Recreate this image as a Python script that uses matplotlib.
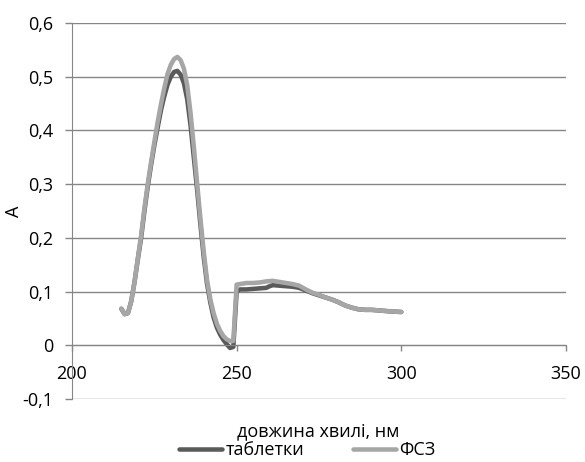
import matplotlib
matplotlib.use("Agg")
import matplotlib.pyplot as plt
from matplotlib.ticker import FuncFormatter

plt.rcParams['font.family'] = ['Open Sans', 'DejaVu Sans']

# wavelength, nm / absorbance
wl_tab = [215, 216, 217, 218, 219, 220, 221, 222, 223, 224, 225, 226, 227, 228, 229,
          230, 231, 232, 233, 234, 235, 236, 237, 238, 239, 240, 241, 242, 243, 244,
          245, 246, 247, 248, 249, 250, 251, 253, 255, 257, 259, 260, 261, 263, 265,
          267, 269, 271, 273, 275, 277, 279, 281, 283, 285, 287, 289, 291, 293, 295,
          297, 300]
a_tab = [0.068, 0.058, 0.060, 0.082, 0.118, 0.160, 0.200, 0.250, 0.295, 0.335, 0.372,
         0.405, 0.437, 0.463, 0.485, 0.500, 0.509, 0.511, 0.504, 0.488, 0.458, 0.410,
         0.350, 0.290, 0.225, 0.165, 0.115, 0.080, 0.052, 0.033, 0.020, 0.010, 0.002,
         -0.005, -0.003, 0.100, 0.104, 0.104, 0.105, 0.106, 0.107, 0.110, 0.112, 0.111,
         0.110, 0.109, 0.107, 0.102, 0.097, 0.093, 0.089, 0.085, 0.080, 0.074, 0.070,
         0.067, 0.066, 0.066, 0.065, 0.064, 0.063, 0.062]

wl_fsz = [215, 216, 217, 218, 219, 220, 221, 222, 223, 224, 225, 226, 227, 228, 229,
          230, 231, 232, 233, 234, 235, 236, 237, 238, 239, 240, 241, 242, 243, 244,
          245, 246, 247, 248, 249, 250, 251, 253, 255, 257, 259, 261, 263, 265, 267,
          269, 271, 273, 275, 277, 279, 281, 283, 285, 287, 289, 291, 293, 295, 297,
          300]
a_fsz = [0.068, 0.058, 0.060, 0.082, 0.118, 0.162, 0.205, 0.255, 0.300, 0.340, 0.378,
         0.415, 0.448, 0.478, 0.505, 0.522, 0.533, 0.537, 0.531, 0.515, 0.484, 0.433,
         0.370, 0.302, 0.236, 0.175, 0.122, 0.086, 0.060, 0.040, 0.027, 0.017, 0.011,
         0.008, 0.008, 0.113, 0.114, 0.116, 0.116, 0.117, 0.119, 0.120, 0.118, 0.116,
         0.114, 0.111, 0.104, 0.098, 0.094, 0.089, 0.085, 0.080, 0.074, 0.070, 0.067,
         0.066, 0.066, 0.065, 0.064, 0.063, 0.062]

grid_c = '#868686'
fs = 13

fig = plt.figure(figsize=(5.85, 4.62), dpi=100)
ax = fig.add_axes([0.123, 0.1364, 0.8445, 0.8136])

l1, = ax.plot(wl_tab, a_tab, color='#5a5a5a', lw=3.25, solid_capstyle='round',
              solid_joinstyle='round', label='таблетки')
l2, = ax.plot(wl_fsz, a_fsz, color='#a6a6a6', lw=3.25, solid_capstyle='round',
              solid_joinstyle='round', label='ФСЗ')

ax.set_xlim(200, 350)
ax.set_ylim(-0.1, 0.6)
ax.set_xticks([200, 250, 300, 350])
ax.set_yticks([-0.1, 0, 0.1, 0.2, 0.3, 0.4, 0.5, 0.6])
ax.yaxis.set_major_formatter(FuncFormatter(
    lambda v, p: '0' if abs(v) < 1e-9 else ('%.1f' % v).replace('.', ',')))

ax.grid(axis='y', color=grid_c, lw=1)
ax.set_axisbelow(True)
for s in ['top', 'right']:
    ax.spines[s].set_visible(False)
ax.spines['bottom'].set_position(('data', 0))
ax.spines['bottom'].set_color(grid_c)
ax.spines['left'].set_color(grid_c)

ax.tick_params(axis='y', colors=grid_c, length=5, width=1, pad=8.5, labelsize=fs, labelcolor='black')
ax.tick_params(axis='x', colors=grid_c, direction='out', length=4, width=1, pad=10,
               labelsize=fs, labelcolor='black')

fig.text(14 / 585, 0.5 * (0.1364 + 0.95), 'A', rotation=90, ha='center', va='center', fontsize=fs)
fig.text(318 / 585, 1 - 431 / 462, 'довжина хвилі, нм', ha='center', va='center', fontsize=fs)

fig.legend(handles=[l1, l2], loc='center', bbox_to_anchor=(307 / 585, 1 - 450 / 462),
           ncol=2, frameon=False, fontsize=fs, handlelength=2.4, handletextpad=0.17,
           columnspacing=2.7, borderaxespad=0, borderpad=0)

fig.savefig('out.png', dpi=100)
